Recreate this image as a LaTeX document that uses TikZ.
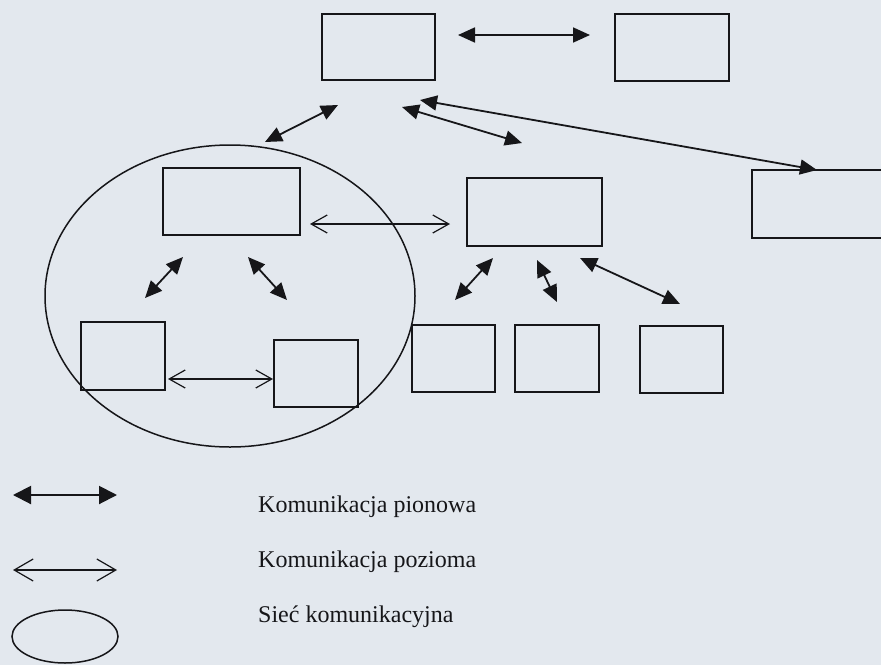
\documentclass[tikz,border=0pt]{standalone}
\usepackage{fontspec}
\setmainfont{Liberation Serif}
\usetikzlibrary{arrows.meta,shapes.geometric}
\definecolor{paper}{RGB}{227,232,238}
\definecolor{ink}{RGB}{22,22,25}
\begin{document}
\begin{tikzpicture}[x=1pt,y=-1pt,
  box/.style={draw=ink,line width=1.8pt,rectangle,inner sep=0pt},
  vert/.style={draw=ink,line width=1.8pt,{Triangle[length=17pt,width=15pt]}-{Triangle[length=17pt,width=15pt]}},
  vertbig/.style={draw=ink,line width=2pt,{Triangle[length=18pt,width=18pt]}-{Triangle[length=18pt,width=18pt]}},
  horiz/.style={draw=ink,line width=1.2pt,{Straight Barb[length=16pt,width=18pt]}-{Straight Barb[length=16pt,width=18pt]}},
  horizbig/.style={draw=ink,line width=1.2pt,{Straight Barb[length=19pt,width=22pt]}-{Straight Barb[length=19pt,width=22pt]}},
  net/.style={draw=ink,line width=1.5pt,ellipse,inner sep=0pt},
  lbl/.style={anchor=base west,font=\fontsize{24}{28}\selectfont,text=ink,inner sep=0pt}]
\fill[paper] (0,0) rectangle (881,665);
\useasboundingbox (0,0) rectangle (881,665);
\clip (0,0) rectangle (881,665);

% network ellipse
\node[net,minimum width=370pt,minimum height=302pt] (N) at (230,296) {};

% boxes
\node[box,minimum width=113pt,minimum height=66pt] (A) at (378.5,47) {};
\node[box,minimum width=114pt,minimum height=67pt] (B) at (672,47.5) {};
\node[box,minimum width=137pt,minimum height=67pt] (C) at (231.5,201.5) {};
\node[box,minimum width=135pt,minimum height=68pt] (D) at (534.5,212) {};
\node[box,minimum width=150pt,minimum height=68pt] (J) at (827,204) {};
\node[box,minimum width=84pt,minimum height=68pt] (E) at (123,356) {};
\node[box,minimum width=84pt,minimum height=67pt] (F) at (316,373.5) {};
\node[box,minimum width=83pt,minimum height=67pt] (G) at (453.5,358.5) {};
\node[box,minimum width=84pt,minimum height=67pt] (H) at (557,358.5) {};
\node[box,minimum width=83pt,minimum height=67pt] (I) at (681.5,359.5) {};

% connector end points
\coordinate (ab1) at (458,35);   \coordinate (ab2) at (590,35);
\coordinate (an1) at (338,105);  \coordinate (an2) at (265,142);
\coordinate (ad1) at (402,107);  \coordinate (ad2) at (522,143);
\coordinate (aj1) at (420,100);  \coordinate (aj2) at (817,170);
\coordinate (ce1) at (183,257);  \coordinate (ce2) at (145,298);
\coordinate (cf1) at (248,257);  \coordinate (cf2) at (287,300);
\coordinate (dg1) at (493,258);  \coordinate (dg2) at (455,300);
\coordinate (dh1) at (537,260);  \coordinate (dh2) at (557,302);
\coordinate (di1) at (580,258);  \coordinate (di2) at (680,304);
\coordinate (cd1) at (310,224);  \coordinate (cd2) at (450,224);
\coordinate (ef1) at (168,379);  \coordinate (ef2) at (273,379);

% vertical communication
\draw[vert] (ab1) -- (ab2);
\draw[vert] (an1) -- (an2);
\draw[vert] (ad1) -- (ad2);
\draw[vert] (aj1) -- (aj2);
\draw[vert] (ce1) -- (ce2);
\draw[vert] (cf1) -- (cf2);
\draw[vert] (dg1) -- (dg2);
\draw[vert] (dh1) -- (dh2);
\draw[vert] (di1) -- (di2);

% horizontal communication
\draw[horiz] (cd1) -- (cd2);
\draw[horiz] (ef1) -- (ef2);

% legend
\coordinate (l1a) at (13,495);  \coordinate (l1b) at (117,495);
\coordinate (l2a) at (13,570);  \coordinate (l2b) at (117,570);
\draw[vertbig] (l1a) -- (l1b);
\draw[horizbig] (l2a) -- (l2b);
\node[net,minimum width=106pt,minimum height=53pt] (LN) at (65,636.5) {};
\node[lbl] (t1) at (258,512) {Komunikacja pionowa};
\node[lbl] (t2) at (258,567) {Komunikacja pozioma};
\node[lbl] (t3) at (258,622) {Sieć komunikacyjna};
\end{tikzpicture}
\end{document}
